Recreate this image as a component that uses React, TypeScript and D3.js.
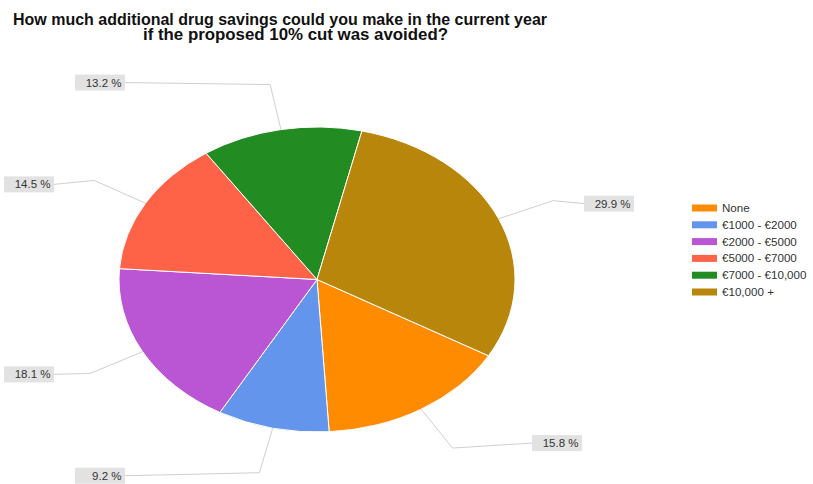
import React from "react";
import * as d3 from "d3";

const categories = ["None", "€1000 - €2000", "€2000 - €5000", "€5000 - €7000", "€7000 - €10,000", "€10,000 +"];
const values = [15.8, 9.2, 18.1, 14.5, 13.2, 29.9];
const labels = ["15.8 %", "9.2 %", "18.1 %", "14.5 %", "13.2 %", "29.9 %"];
const colors = ["#FF8C00", "#6495ED", "#BA55D3", "#FF6347", "#228B22", "#B8860B"];
const titleLines = ["How much additional drug savings could you make in the current year", "if the proposed 10% cut was avoided?"];

// label box layout: side, and edge x of box (left edge for right side, right edge for left side), y offset
const labelLayout = [
  { side: "right", x: 532, dy: -5 },
  { side: "left", x: 125, dy: 3 },
  { side: "left", x: 54, dy: 1 },
  { side: "left", x: 54, dy: 4 },
  { side: "left", x: 125, dy: -2 },
  { side: "right", x: 584, dy: 3 },
];

export default function App() {
  const W = 813, H = 484;
  const cx = 317, cy = 279.5, rx = 198, ry = 152.5;
  const pie = d3.pie<number>().sort(null).value((d) => d).startAngle((120 * Math.PI) / 180).endAngle((480 * Math.PI) / 180);
  const arcs = pie(values);
  const arcGen = d3.arc<d3.PieArcDatum<number>>().innerRadius(0).outerRadius(rx);
  const sy = ry / rx;
  const pt = (a: number, k: number) => [cx + rx * k * Math.sin(a), cy - ry * k * Math.cos(a)];
  const boxW = 50, boxH = 16;
  return (
    <svg width={W} height={H} style={{ position: "absolute", left: 0, top: 0, background: "#fff" }} fontFamily="Arial, 'Liberation Sans', sans-serif">
      <text x={13} y={24.5} fontSize={16} fontWeight="bold" fill="#111" textLength={534} lengthAdjust="spacingAndGlyphs">{titleLines[0]}</text>
      <text x={143} y={40} fontSize={16} fontWeight="bold" fill="#111" textLength={305} lengthAdjust="spacingAndGlyphs">{titleLines[1]}</text>
      <g transform={`translate(${cx},${cy}) scale(1,${sy})`}>
        {arcs.map((a, i) => (
          <path key={i} d={arcGen(a) || ""} fill={colors[i]} stroke="#fff" strokeWidth={1} vectorEffect="non-scaling-stroke" />
        ))}
      </g>
      {arcs.map((a, i) => {
        const mid = (a.startAngle + a.endAngle) / 2;
        const p0 = pt(mid, 1);
        const p1 = pt(mid, 1.3);
        const L = labelLayout[i];
        const by = p1[1] + L.dy;
        const bx = L.side === "right" ? L.x : L.x - boxW;
        const ex = L.x;
        return (
          <g key={i}>
            <polyline points={`${p0[0]},${p0[1]} ${p1[0]},${p1[1]} ${ex},${by}`} fill="none" stroke="#d0d0d0" strokeWidth={1} />
            <rect x={bx} y={by - boxH / 2} width={boxW} height={boxH} fill="#e2e2e2" />
            <text x={bx + boxW - 3.5} y={by + 4} fontSize={11.5} textAnchor="end" fill="#333">{labels[i]}</text>
          </g>
        );
      })}
      {categories.map((c, i) => (
        <g key={i} transform={`translate(692,${208 + i * 16.8})`}>
          <rect x={0} y={-3.5} width={25} height={7} fill={colors[i]} />
          <text x={30} y={4} fontSize={11.6} fill="#333">{c}</text>
        </g>
      ))}
    </svg>
  );
}
